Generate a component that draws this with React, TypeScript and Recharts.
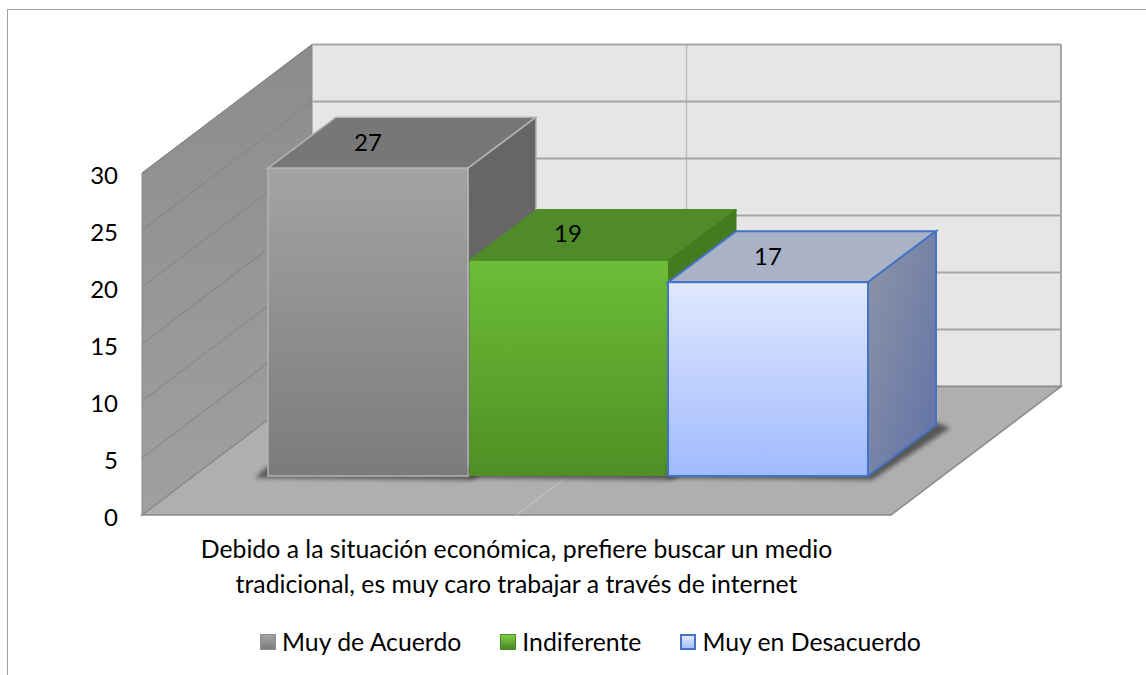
import { Bar, BarChart, LabelList, Legend, ReferenceArea, XAxis, YAxis } from 'recharts';

const categories = ['Debido a la situación económica, prefiere buscar un medio tradicional, es muy caro trabajar a través de internet'];
const categoryLines = ['Debido a la situación económica, prefiere buscar un medio', 'tradicional, es muy caro trabajar a través de internet'];
const muyDeAcuerdo = [27];
const indiferente = [19];
const muyEnDesacuerdo = [17];
const yTicks = [0, 5, 10, 15, 20, 25, 30];

const data = categories.map((category, i) => ({
  category,
  muyDeAcuerdo: muyDeAcuerdo[i],
  indiferente: indiferente[i],
  muyEnDesacuerdo: muyEnDesacuerdo[i],
}));

const FONT = 'Lato, sans-serif';

// depth of the fake 3d box and of the room around it
const WALL_DX = 170;
const WALL_DY = -128.5;
const BOX_DX = 68;
const BOX_DY = -51;
const SHIFT_X = 51.5;
const SHIFT_Y = -39;

const pts = (list: number[][]) => list.map((p) => p.join(',')).join(' ');

function Room({ x, y, width, height }: any) {
  const bottom = y + height;
  const right = x + width;
  const mid = x + width / 2;
  return (
    <g>
      <rect x={x + WALL_DX} y={y + WALL_DY} width={width} height={height} fill="#e6e6e6" />
      <polygon
        points={pts([[x, y], [x + WALL_DX, y + WALL_DY], [x + WALL_DX, bottom + WALL_DY], [x, bottom]])}
        fill="url(#sideWall)"
        stroke="#8a8a8a"
        strokeWidth={1}
      />
      <line x1={mid + WALL_DX} x2={mid + WALL_DX} y1={y + WALL_DY} y2={bottom + WALL_DY} stroke="#bdbdbd" strokeWidth={1.5} />
      {yTicks.map((t) => {
        const ty = bottom - (t / 30) * height;
        return (
          <g key={t}>
            <line x1={x} y1={ty} x2={x + WALL_DX} y2={ty + WALL_DY} stroke="#828282" strokeWidth={1} />
            <line x1={x + WALL_DX} y1={ty + WALL_DY} x2={right + WALL_DX} y2={ty + WALL_DY} stroke="#a6a6a6" strokeWidth={2} />
          </g>
        );
      })}
      <line x1={right + WALL_DX} x2={right + WALL_DX} y1={y + WALL_DY} y2={bottom + WALL_DY} stroke="#a6a6a6" strokeWidth={2} />
      <polygon
        points={pts([[x, bottom], [right, bottom], [right + WALL_DX, bottom + WALL_DY], [x + WALL_DX, bottom + WALL_DY]])}
        fill="#afafaf"
        stroke="#8a8a8a"
        strokeWidth={1.5}
      />
      <line x1={mid} y1={bottom} x2={mid + WALL_DX} y2={bottom + WALL_DY} stroke="#c9c9c9" strokeWidth={1} />
    </g>
  );
}

const looks: Record<string, any> = {
  gray: { front: 'url(#grayFront)', top: '#777777', side: '#666666', stroke: '#b3b3b3', sw: 1.5, shadowLeft: 13, inset: 0 },
  green: { front: 'url(#greenFront)', top: '#4f8b29', side: '#447a20', stroke: 'none', sw: 0, shadowLeft: 0, inset: 1.5 },
  blue: { front: 'url(#blueFront)', top: '#aab2c5', side: 'url(#blueSide)', stroke: '#4472c4', sw: 2, shadowLeft: 0, inset: 0 },
};

function Box3D({ x, y, width, height, look }: any) {
  const l = looks[look];
  const fx = x + SHIFT_X + l.inset;
  const fy = y + SHIFT_Y + l.inset;
  const fr = x + SHIFT_X + width;
  const fb = y + SHIFT_Y + height;
  const join = look === 'green' ? 'round' : 'miter';
  return (
    <g>
      <polygon
        points={pts([
          [fx - l.shadowLeft, fb + 2],
          [fr + 4, fb + 4],
          [fr + BOX_DX + 14, fb + BOX_DY + 3],
          [fr + BOX_DX, fb + BOX_DY - 3],
          [fx, fb - 10],
        ])}
        fill="#3a3a3a"
        opacity={0.75}
        filter="url(#soft)"
      />
      <polygon
        points={pts([[fx, fy], [fx + BOX_DX, fy + BOX_DY], [fr + BOX_DX, fy + BOX_DY], [fr, fy]])}
        fill={l.top}
        stroke={look === 'green' ? l.top : l.stroke}
        strokeWidth={look === 'green' ? 2 : l.sw}
        strokeLinejoin={join}
      />
      <polygon
        points={pts([[fr, fy], [fr + BOX_DX, fy + BOX_DY], [fr + BOX_DX, fb + BOX_DY], [fr, fb]])}
        fill={l.side}
        stroke={look === 'green' ? l.side : l.stroke}
        strokeWidth={look === 'green' ? 1 : l.sw}
        strokeLinejoin={join}
      />
      <rect x={fx} y={fy} width={fr - fx} height={fb - fy} fill={l.front} stroke={l.stroke} strokeWidth={l.sw} />
    </g>
  );
}

function TopLabel({ x, y, width, value }: any) {
  return (
    <text x={x + width / 2 + SHIFT_X} y={y + SHIFT_Y - 17} textAnchor="middle" fontFamily={FONT} fontSize={24} fill="#000000">
      {value}
    </text>
  );
}

function CategoryTick({ x }: any) {
  return (
    <text textAnchor="middle" fontFamily={FONT} fontSize={24.8} fill="#000000">
      {categoryLines.map((line, i) => (
        <tspan key={line} x={x} y={558 + i * 35}>
          {line}
        </tspan>
      ))}
    </text>
  );
}

const swatches: Record<string, any> = {
  'Muy de Acuerdo': { background: 'linear-gradient(#a6a6a6, #7c7c7c)', border: '1px solid #8c8c8c' },
  Indiferente: { background: 'linear-gradient(#7fd043, #4a8526)', border: '1px solid #4f8b29' },
  'Muy en Desacuerdo': { background: 'linear-gradient(#e0e8ff, #a2bcff)', border: '2px solid #4472c4' },
};

function LegendItems({ payload }: any) {
  return (
    <div style={{ display: 'flex', alignItems: 'center', gap: 39, fontFamily: FONT, fontSize: 24.8, lineHeight: '30px', color: '#000', whiteSpace: 'nowrap' }}>
      {(payload || []).map((item: any) => (
        <div key={item.value} style={{ display: 'flex', alignItems: 'center', gap: 6 }}>
          <span style={{ display: 'inline-block', width: 16, height: 16, boxSizing: 'border-box', ...swatches[item.value] }} />
          <span>{item.value}</span>
        </div>
      ))}
    </div>
  );
}

export default function App() {
  return (
    <div style={{ position: 'absolute', left: 0, top: 0, width: 1146, height: 675, overflow: 'hidden', background: '#fff' }}>
      <div style={{ position: 'absolute', left: 7, top: 9, right: 0, bottom: 0, borderLeft: '1.5px solid #a0a0a0', borderTop: '1.5px solid #a0a0a0' }} />
      <BarChart
        width={1146}
        height={675}
        data={data}
        margin={{ top: 173, right: 255, left: 82, bottom: 60 }}
        barGap={0}
        barCategoryGap={74.5}
        style={{ position: 'absolute', left: 0, top: 0 }}
      >
        <defs>
          <linearGradient id="sideWall" x1="0" y1="0" x2="0" y2="1">
            <stop offset="0%" stopColor="#8c8c8c" />
            <stop offset="100%" stopColor="#a0a0a0" />
          </linearGradient>
          <linearGradient id="grayFront" x1="0" y1="0" x2="0" y2="1">
            <stop offset="0%" stopColor="#a3a3a3" />
            <stop offset="100%" stopColor="#7b7b7b" />
          </linearGradient>
          <linearGradient id="greenFront" x1="0" y1="0" x2="0" y2="1">
            <stop offset="0%" stopColor="#6cbd36" />
            <stop offset="100%" stopColor="#4f8f25" />
          </linearGradient>
          <linearGradient id="blueFront" x1="0" y1="0" x2="0" y2="1">
            <stop offset="0%" stopColor="#e1e8fe" />
            <stop offset="100%" stopColor="#a0baff" />
          </linearGradient>
          <linearGradient id="blueSide" x1="0" y1="0" x2="1" y2="1">
            <stop offset="0%" stopColor="#8f95a8" />
            <stop offset="100%" stopColor="#5f72a6" />
          </linearGradient>
          <filter id="soft" x="-10%" y="-30%" width="120%" height="160%">
            <feGaussianBlur stdDeviation="2" />
          </filter>
        </defs>
        <XAxis dataKey="category" axisLine={false} tickLine={false} height={100} interval={0} tick={<CategoryTick />} />
        <YAxis
          width={60}
          domain={[0, 30]}
          ticks={yTicks}
          axisLine={false}
          tickLine={false}
          tickSize={24}
          tickMargin={0}
          tick={{ fontSize: 24, fill: '#000000', fontFamily: FONT, dy: 2 }}
        />
        <ReferenceArea y1={0} y2={30} ifOverflow="visible" shape={(p: any) => <Room {...p} />} />
        <Legend
          layout="horizontal"
          verticalAlign="middle"
          align="center"
          itemSorter={null}
          wrapperStyle={{ left: 260, top: 627, width: 'auto' }}
          content={<LegendItems />}
        />
        <Bar dataKey="muyDeAcuerdo" name="Muy de Acuerdo" fill="#8c8c8c" isAnimationActive={false} shape={(p: any) => <Box3D {...p} look="gray" />}>
          <LabelList dataKey="muyDeAcuerdo" content={<TopLabel />} />
        </Bar>
        <Bar dataKey="indiferente" name="Indiferente" fill="#5fa82f" isAnimationActive={false} shape={(p: any) => <Box3D {...p} look="green" />}>
          <LabelList dataKey="indiferente" content={<TopLabel />} />
        </Bar>
        <Bar dataKey="muyEnDesacuerdo" name="Muy en Desacuerdo" fill="#c5d4ff" isAnimationActive={false} shape={(p: any) => <Box3D {...p} look="blue" />}>
          <LabelList dataKey="muyEnDesacuerdo" content={<TopLabel />} />
        </Bar>
      </BarChart>
    </div>
  );
}
